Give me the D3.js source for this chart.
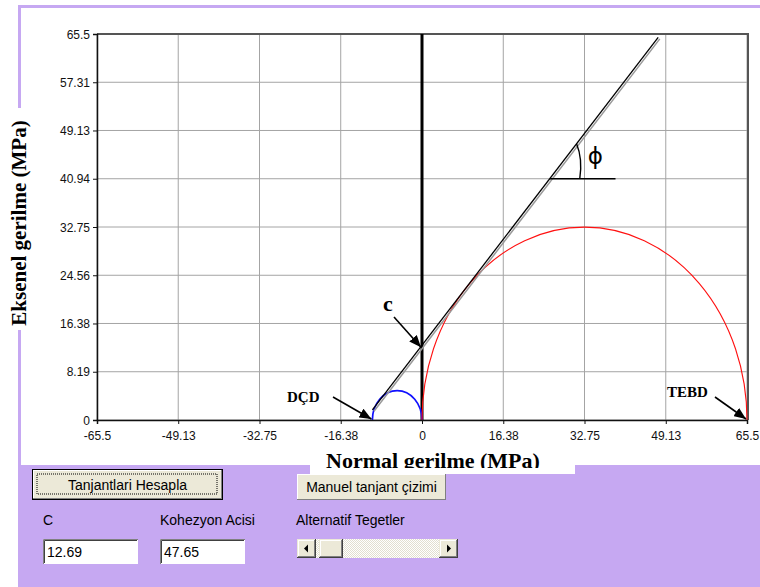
<!DOCTYPE html>
<html>
<head>
<meta charset="utf-8">
<script src="https://cdn.jsdelivr.net/npm/d3@7"></script>
<style>
  body { margin: 0; background: #fff; }
  svg { display: block; }
</style>
</head>
<body>
<div id="chart"></div>
<script>
"use strict";

// tick values shown on the axes
var xTicks = [-65.5, -49.13, -32.75, -16.38, 0, 16.38, 32.75, 49.13, 65.5];
var yTicks = [0, 8.19, 16.38, 24.56, 32.75, 40.94, 49.13, 57.31, 65.5];

// mohr circles: sigma3 / sigma1 of each test
var circleNames = ["DÇD", "TEBD"];
var sigma3 = [-10, 0];
var sigma1 = [0, 65.5];

// tangent (failure envelope)
var cohesion = 12.69;
var phiDeg = 47.65;
var tangentFrom = -10;
var tangentTo = 47.6;
var phiMarkAt = 40.94;    // tau level of the phi helper line
var phiMarkTo = 39;

var W = 760, H = 587;
var purple = "#c6a8f2";

var svg = d3.select("#chart").append("svg")
  .attr("width", W).attr("height", H);

// form background
svg.append("rect").attr("x", 18).attr("y", 5).attr("width", W - 18).attr("height", H - 5)
  .attr("fill", purple);
svg.append("rect").attr("x", 21).attr("y", 8).attr("width", W - 21).attr("height", 457)
  .attr("fill", "#fff");

var x = d3.scaleLinear().domain([-65.5, 65.5]).range([97, 747]);
var y = d3.scaleLinear().domain([0, 65.5]).range([420, 34]);

var plot = svg.append("g");

// grid
plot.selectAll(".vg").data(xTicks).join("line")
  .attr("x1", d => x(d)).attr("x2", d => x(d))
  .attr("y1", y(0)).attr("y2", y(65.5))
  .attr("stroke", "#a4a4a4").attr("stroke-width", 1);
plot.selectAll(".hg").data(yTicks).join("line")
  .attr("x1", x(-65.5)).attr("x2", x(65.5))
  .attr("y1", d => y(d)).attr("y2", d => y(d))
  .attr("stroke", "#a4a4a4").attr("stroke-width", 1);

// frame top / right
plot.append("path")
  .attr("d", "M" + x(-65.5) + "," + y(65.5) + "H" + (x(65.5) + 1) + "V" + y(0))
  .attr("fill", "none").attr("stroke", "#555").attr("stroke-width", 2);

// axes
var xAxis = d3.axisBottom(x).tickValues(xTicks).tickSize(4).tickFormat(d => String(d));
var yAxis = d3.axisLeft(y).tickValues(yTicks).tickSize(4).tickFormat(d => String(d));

var gx = svg.append("g").attr("transform", "translate(0," + y(0) + ")").call(xAxis);
var gy = svg.append("g").attr("transform", "translate(" + x(-65.5) + ",0)").call(yAxis);
[gx, gy].forEach(function(g) {
  g.select(".domain").attr("stroke", "#111").attr("stroke-width", 1.5);
  g.selectAll(".tick line").attr("stroke", "#111");
  g.selectAll(".tick text")
    .attr("font-family", "Liberation Sans, Arial, sans-serif")
    .attr("font-size", "12px").attr("fill", "#111");
});
gx.selectAll(".tick text").attr("dy", "1.05em");
gy.selectAll(".tick text").attr("dy", "0.35em").attr("x", -7);

// thick vertical at sigma = 0
plot.append("line")
  .attr("x1", x(0)).attr("x2", x(0)).attr("y1", y(0)).attr("y2", y(65.5))
  .attr("stroke", "#000").attr("stroke-width", 3);

// mohr half circles (ellipses in pixel space)
var circleColors = ["#1010ff", "#ff1010"];
sigma3.forEach(function(s3, i) {
  var s1 = sigma1[i];
  var c = (s1 + s3) / 2, r = (s1 - s3) / 2;
  var rx = x(c + r) - x(c), ry = y(0) - y(r);
  plot.append("path")
    .attr("d", "M" + x(s3) + "," + y(0) + " A" + rx + "," + ry + " 0 0 1 " + x(s1) + "," + y(0))
    .attr("fill", "none")
    .attr("stroke", circleColors[i])
    .attr("stroke-width", i === 0 ? 1.7 : 1.1);
});

// tangent line, black with grey shadow
var slope = Math.tan(phiDeg * Math.PI / 180);
var tau = s => cohesion + slope * s;
plot.append("line")
  .attr("x1", x(tangentFrom) + 1.6).attr("y1", y(tau(tangentFrom)) + 1.4)
  .attr("x2", x(tangentTo) + 1.6).attr("y2", y(tau(tangentTo)) + 1.4)
  .attr("stroke", "#999").attr("stroke-width", 1.5);
plot.append("line")
  .attr("x1", x(tangentFrom)).attr("y1", y(tau(tangentFrom)))
  .attr("x2", x(tangentTo)).attr("y2", y(tau(tangentTo)))
  .attr("stroke", "#000").attr("stroke-width", 1.3);

// phi helper
var sPhi = (phiMarkAt - cohesion) / slope;
var px0 = x(sPhi), py0 = y(phiMarkAt);
plot.append("line")
  .attr("x1", px0).attr("y1", py0).attr("x2", x(phiMarkTo)).attr("y2", py0)
  .attr("stroke", "#000").attr("stroke-width", 1.6);
var ang = Math.atan2(y(tau(sPhi)) - y(tau(sPhi + 10)), x(sPhi + 10) - x(sPhi));
var ax = px0 + 44 * Math.cos(ang), ay = py0 - 44 * Math.sin(ang);
plot.append("path")
  .attr("d", "M" + (px0 + 30) + "," + py0 + " Q" + (px0 + 33) + "," + (py0 - 20) + " " + ax + "," + ay)
  .attr("fill", "none").attr("stroke", "#000").attr("stroke-width", 1.4);
plot.append("text")
  .attr("x", px0 + 38).attr("y", py0 - 15)
  .attr("font-family", "DejaVu Sans, sans-serif").attr("font-size", "23px")
  .text("ϕ");

// arrows
svg.append("defs").append("marker")
  .attr("id", "ah").attr("viewBox", "0 0 12 10").attr("refX", 12).attr("refY", 5)
  .attr("markerWidth", 12).attr("markerHeight", 10).attr("markerUnits", "userSpaceOnUse")
  .attr("orient", "auto")
  .append("path").attr("d", "M0,0L12,5L0,10Z").attr("fill", "#000");

var serif = "Liberation Serif, Times New Roman, serif";
function note(label, tx, ty, size, fx, fy, toX, toY) {
  svg.append("text").attr("x", tx).attr("y", ty)
    .attr("font-family", serif).attr("font-weight", "bold").attr("font-size", size)
    .text(label);
  svg.append("line").attr("x1", fx).attr("y1", fy).attr("x2", toX).attr("y2", toY)
    .attr("stroke", "#000").attr("stroke-width", 1.6).attr("marker-end", "url(#ah)");
}
note("c", 383, 311, "22px", 394, 317, x(0) - 1, y(cohesion) + 2);
note(circleNames[0], 287, 402, "15px", 333, 397, x(sigma3[0]) - 1, y(0) - 1);
note(circleNames[1], 667, 397, "15px", 715, 397, x(sigma1[1]) - 1, y(0) - 1);

// axis titles on white label boxes
svg.append("rect").attr("x", 0).attr("y", 108).attr("width", 31).attr("height", 222).attr("fill", "#fff");
svg.append("text")
  .attr("transform", "translate(26,223) rotate(-90)")
  .attr("text-anchor", "middle")
  .attr("font-family", serif).attr("font-weight", "bold").attr("font-size", "21px")
  .text("Eksenel gerilme (MPa)");

svg.append("clipPath").attr("id", "xl").append("rect")
  .attr("x", 310).attr("y", 445).attr("width", 265).attr("height", 23);
svg.append("rect").attr("x", 310).attr("y", 450).attr("width", 265).attr("height", 24).attr("fill", "#fff");
svg.append("text")
  .attr("x", 433).attr("y", 468).attr("text-anchor", "middle")
  .attr("clip-path", "url(#xl)")
  .attr("font-family", serif).attr("font-weight", "bold").attr("font-size", "22px")
  .text("Normal gerilme (MPa)");

// form controls
var sans = "Liberation Sans, Arial, sans-serif";
function button(bx, by, bw, bh, label, isDefault) {
  var b = svg.append("g");
  if (isDefault) {
    b.append("rect").attr("x", bx).attr("y", by).attr("width", bw).attr("height", bh).attr("fill", "#000");
    bx += 1; by += 1; bw -= 2; bh -= 2;
  }
  b.append("rect").attr("x", bx).attr("y", by).attr("width", bw).attr("height", bh).attr("fill", "#808080");
  b.append("rect").attr("x", bx).attr("y", by).attr("width", bw - 1).attr("height", bh - 1).attr("fill", "#fff");
  b.append("rect").attr("x", bx + 1).attr("y", by + 1).attr("width", bw - 2).attr("height", bh - 2).attr("fill", "#ece9d8");
  if (isDefault) {
    b.append("rect").attr("x", bx + 4).attr("y", by + 4).attr("width", bw - 9).attr("height", bh - 9)
      .attr("fill", "none").attr("stroke", "#000").attr("stroke-width", 1).attr("stroke-dasharray", "1,1");
  }
  b.append("text").attr("x", bx + bw / 2).attr("y", by + bh / 2 + 5).attr("text-anchor", "middle")
    .attr("font-family", sans).attr("font-size", "14px").attr("fill", "#000").text(label);
}
button(32, 469, 191, 31, "Tanjantlari Hesapla", true);
button(297, 474, 149, 26, "Manuel tanjant çizimi", false);

var labelNames = ["C", "Kohezyon Acisi", "Alternatif Tegetler"];
var labelX = [43, 160, 296];
labelNames.forEach(function(t, i) {
  svg.append("text").attr("x", labelX[i]).attr("y", 525)
    .attr("font-family", sans).attr("font-size", "14px").attr("fill", "#000").text(t);
});

var boxValues = [String(cohesion), String(phiDeg)];
var boxX = [43, 160], boxW = [95, 85];
boxValues.forEach(function(v, i) {
  var bx = boxX[i], by = 539, bw = boxW[i], bh = 25;
  svg.append("rect").attr("x", bx).attr("y", by).attr("width", bw).attr("height", bh).attr("fill", "#fff");
  svg.append("path").attr("d", "M" + (bx + 0.5) + "," + (by + bh) + "V" + (by + 0.5) + "H" + (bx + bw))
    .attr("fill", "none").attr("stroke", "#808080");
  svg.append("path").attr("d", "M" + (bx + 1.5) + "," + (by + bh - 1) + "V" + (by + 1.5) + "H" + (bx + bw - 1))
    .attr("fill", "none").attr("stroke", "#404040");
  svg.append("text").attr("x", bx + 4).attr("y", by + 18)
    .attr("font-family", sans).attr("font-size", "14px").attr("fill", "#000").text(v);
});

// scrollbar
var sb = svg.append("g");
var sx = 297, sy = 539, sw = 161, sh = 19;
var pat = svg.select("defs").append("pattern").attr("id", "dots")
  .attr("width", 2).attr("height", 2).attr("patternUnits", "userSpaceOnUse");
pat.append("rect").attr("width", 2).attr("height", 2).attr("fill", "#ffffff");
pat.append("rect").attr("width", 1).attr("height", 1).attr("fill", "#e2dfd0");
pat.append("rect").attr("x", 1).attr("y", 1).attr("width", 1).attr("height", 1).attr("fill", "#e2dfd0");
sb.append("rect").attr("x", sx).attr("y", sy).attr("width", sw).attr("height", sh).attr("fill", "url(#dots)");
function sbButton(bx, bw) {
  sb.append("rect").attr("x", bx).attr("y", sy).attr("width", bw).attr("height", sh).attr("fill", "#404040");
  sb.append("rect").attr("x", bx).attr("y", sy).attr("width", bw - 1).attr("height", sh - 1).attr("fill", "#ece9d8");
  sb.append("rect").attr("x", bx + 1).attr("y", sy + 1).attr("width", bw - 2).attr("height", sh - 2).attr("fill", "#808080");
  sb.append("rect").attr("x", bx + 1).attr("y", sy + 1).attr("width", bw - 3).attr("height", sh - 3).attr("fill", "#fff");
  sb.append("rect").attr("x", bx + 2).attr("y", sy + 2).attr("width", bw - 4).attr("height", sh - 4).attr("fill", "#ece9d8");
}
sbButton(sx, 19);
sbButton(sx + 22, 24);
sbButton(sx + sw - 19, 19);
sb.append("path").attr("d", "M" + (sx + 7) + "," + (sy + 9.5) + "l4,-4v8z").attr("fill", "#000");
sb.append("path").attr("d", "M" + (sx + sw - 7) + "," + (sy + 9.5) + "l-4,-4v8z").attr("fill", "#000");
</script>
</body>
</html>
